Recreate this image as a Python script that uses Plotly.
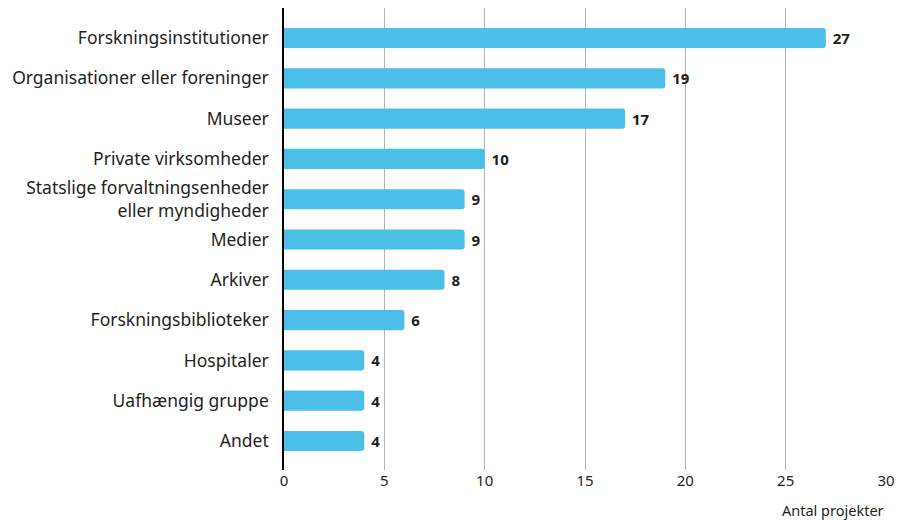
import plotly.graph_objects as go

categories = [
    "Forskningsinstitutioner",
    "Organisationer eller foreninger",
    "Museer",
    "Private virksomheder",
    "Statslige forvaltningsenheder<br>eller myndigheder",
    "Medier",
    "Arkiver",
    "Forskningsbiblioteker",
    "Hospitaler",
    "Uafhængig gruppe",
    "Andet",
]
values = [27, 19, 17, 10, 9, 9, 8, 6, 4, 4, 4]
x_ticks = [0, 5, 10, 15, 20, 25, 30]

FONT = "Noto Sans"

fig = go.Figure(
    go.Bar(
        x=values,
        y=categories,
        orientation="h",
        marker=dict(color="#4cbfe9", cornerradius=3, line=dict(width=0)),
        width=0.5,
        text=[" " + str(v) for v in values],
        textposition="outside",
        textfont=dict(family=FONT, size=15, color="#231f20", weight="bold"),
        cliponaxis=False,
        hoverinfo="skip",
    )
)

fig.update_layout(
    width=899,
    height=520,
    margin=dict(l=284, r=13, t=8, b=50, autoexpand=False),
    plot_bgcolor="white",
    paper_bgcolor="white",
    showlegend=False,
    font=dict(family=FONT, color="#231f20"),
    annotations=[
        dict(
            text="Antal projekter",
            x=1, xref="paper", xanchor="right",
            y=-0.087, yref="paper", yanchor="middle",
            showarrow=False,
            font=dict(family=FONT, size=14.5, color="#231f20"),
        )
    ],
)

fig.update_xaxes(
    range=[0, 30],
    tickvals=x_ticks,
    showgrid=True,
    gridcolor="#b4b4b4",
    gridwidth=1,
    zeroline=False,
    showline=False,
    ticks="",
    automargin=False,
    tickfont=dict(family=FONT, size=15, color="#231f20"),
)

fig.update_yaxes(
    categoryorder="array",
    categoryarray=categories,
    range=[10.72, -0.745],
    showline=True,
    linecolor="#000000",
    linewidth=1.5,
    ticks="",
    automargin=False,
    ticklabelstandoff=10,
    tickfont=dict(family=FONT, size=17.5, color="#231f20"),
)

fig.write_html(
    "out.html",
    config={"displayModeBar": False},
    post_script="document.body.style.margin='0';document.body.style.overflow='hidden';",
)
